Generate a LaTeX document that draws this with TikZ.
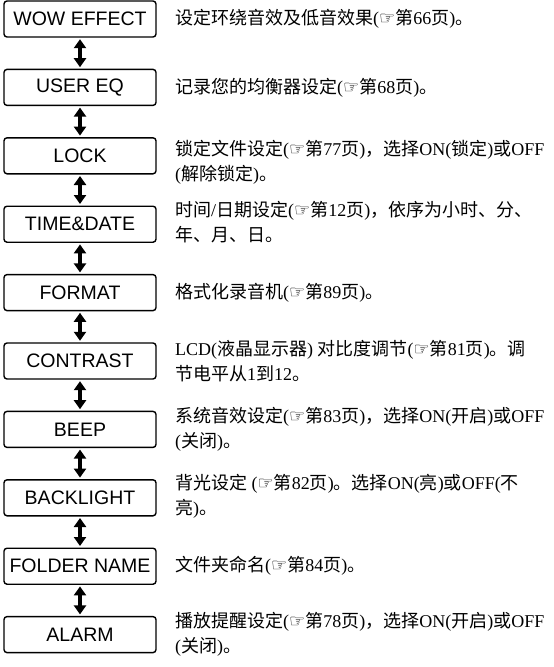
\documentclass[tikz,border=0pt]{standalone}
\usepackage{fontspec}
\setmainfont{Liberation Serif}
\newfontfamily\cjk{Noto Sans CJK SC}
\newfontfamily\symf{DejaVu Sans}
\newfontfamily\labf{Liberation Sans}
\usetikzlibrary{arrows.meta}
\newcommand\hand{{\symf\fontsize{18}{18}\selectfont\symbol{"261E}}}
\newcommand\lt[1]{{\rmfamily #1}}
\tikzset{
  menubox/.style={draw, line width=1.4pt, rounded corners=3pt, minimum width=152pt,
    minimum height=36pt, inner sep=0pt, font=\labf\fontsize{19.5}{20}\selectfont},
  desc/.style={anchor=west, inner sep=0pt, align=left, font=\cjk\fontsize{18}{25}\selectfont},
  updown/.style={line width=3.5pt, {Triangle[width=12pt,length=9pt]}-{Triangle[width=12pt,length=9pt]},
    shorten <=1.5pt, shorten >=1.5pt}
}
\begin{document}
\begin{tikzpicture}[x=1pt,y=-1pt]
\useasboundingbox (0,0) rectangle (554,667);
\node[menubox] (b1) at (80,19.0) {WOW EFFECT};
\node[menubox] (b2) at (80,87.4) {USER EQ};
\node[menubox] (b3) at (80,155.8) {LOCK};
\node[menubox] (b4) at (80,224.2) {TIME\&DATE};
\node[menubox] (b5) at (80,292.6) {FORMAT};
\node[menubox] (b6) at (80,361.0) {CONTRAST};
\node[menubox] (b7) at (80,429.4) {BEEP};
\node[menubox] (b8) at (80,497.8) {BACKLIGHT};
\node[menubox] (b9) at (80,566.2) {FOLDER NAME};
\node[menubox] (b10) at (80,634.6) {ALARM};
\foreach \i [evaluate=\i as \j using int(\i+1)] in {1,...,9}
  \draw[updown] (b\i.south) -- (b\j.north);
\node[desc] (t1) at (175,19.0) {设定环绕音效及低音效果\lt{(}\hand 第\lt{66}页\lt{)}。};
\node[desc] (t2) at (175,87.4) {记录您的均衡器设定\lt{(}\hand 第\lt{68}页\lt{)}。};
\node[desc] (t3) at (175,161.8) {锁定文件设定\lt{(}\hand 第\lt{77}页\lt{)}，选择\lt{ON(}锁定\lt{)}或\lt{OFF}\\\lt{(}解除锁定\lt{)}。};
\node[desc] (t4) at (175,222.2) {时间\lt{/}日期设定\lt{(}\hand 第\lt{12}页\lt{)}，依序为小时、分、\\年、月、日。};
\node[desc] (t5) at (175,292.6) {格式化录音机\lt{(}\hand 第\lt{89}页\lt{)}。};
\node[desc] (t6) at (175,361.0) {\lt{LCD(}液晶显示器\lt{) }对比度调节\lt{(}\hand 第\lt{81}页\lt{)}。调\\节电平从\lt{1}到\lt{12}。};
\node[desc] (t7) at (175,429.4) {系统音效设定\lt{(}\hand 第\lt{83}页\lt{)}，选择\lt{ON(}开启\lt{)}或\lt{OFF}\\\lt{(}关闭\lt{)}。};
\node[desc] (t8) at (175,495.8) {背光设定\lt{ (}\hand 第\lt{82}页\lt{)}。选择\lt{ON(}亮\lt{)}或\lt{OFF(}不\\亮\lt{)}。};
\node[desc] (t9) at (175,566.2) {文件夹命名\lt{(}\hand 第\lt{84}页\lt{)}。};
\node[desc] (t10) at (175,634.6) {播放提醒设定\lt{(}\hand 第\lt{78}页\lt{)}，选择\lt{ON(}开启\lt{)}或\lt{OFF}\\\lt{(}关闭\lt{)}。};
\end{tikzpicture}
\end{document}
